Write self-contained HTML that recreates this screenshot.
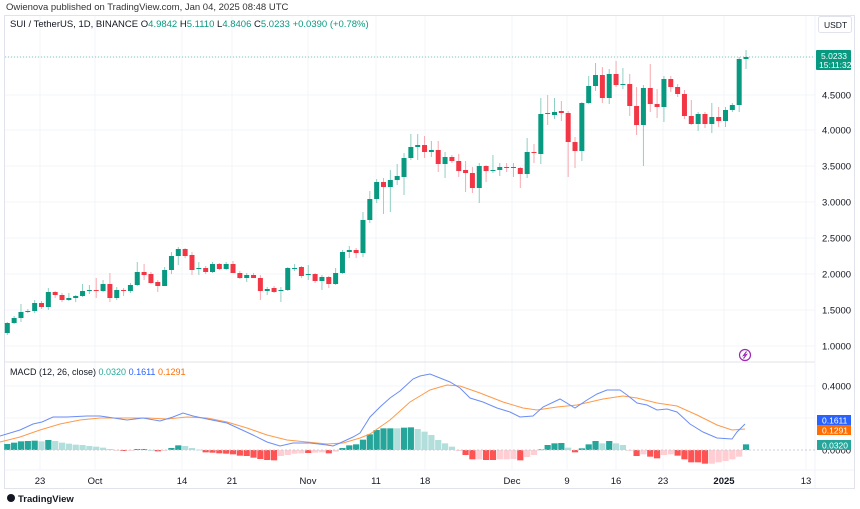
<!DOCTYPE html>
<html><head><meta charset="utf-8">
<style>
body{margin:0;width:860px;height:509px;background:#fff;overflow:hidden;font-family:"Liberation Sans",sans-serif}
svg{position:absolute;left:0;top:0}
</style></head><body>
<svg id="s" width="860" height="509" xmlns="http://www.w3.org/2000/svg" font-family="Liberation Sans, sans-serif"></svg>
<script>
const S=document.getElementById('s');let h='';
h+='<rect x="4.5" y="15.5" width="850" height="473" fill="none" stroke="#e0e3eb"/>';
[57,95,130,166,202,238,274,310,346].forEach(y=>{h+=`<line x1="5" x2="815" y1="${y}" y2="${y}" stroke="#f2f4f8"/>`});
[386,418].forEach(y=>{h+=`<line x1="5" x2="815" y1="${y}" y2="${y}" stroke="#f2f4f8"/>`});
const vx=[40,95,182,232,308,376,425,512,567,616,663,724,806];
vx.forEach(x=>{h+=`<line x1="${x}" x2="${x}" y1="16" y2="470" stroke="#f2f4f8"/>`});
h+='<line x1="5" x2="815" y1="362" y2="362" stroke="#e0e3eb"/>';
h+='<line x1="815" x2="815" y1="16" y2="488" stroke="#f0f3fa"/>';
h+='<line x1="5" x2="854" y1="470" y2="470" stroke="#f0f3fa"/>';
[[95,'4.5000'],[130,'4.0000'],[166,'3.5000'],[202,'3.0000'],[238,'2.5000'],[274,'2.0000'],[310,'1.5000'],[346,'1.0000'],[386,'0.4000'],[450,'0.0000']].forEach(a=>{h+=`<text x="822" y="${a[0]+3.5}" font-size="9.5" fill="#131722">${a[1]}</text>`});
const C=[[333,323,322,335],[323,318,316,324],[318,312,304,322],[312,311,309,313],[311,303,300,313],[303,307,301,309],[307,292,288,310],[292,295,291,298],[295,300,293,302],[300,298,293,301],[298,296,295,302],[296,291,284,297],[291,290,285,294],[290,291,278,298],[291,284,280,292],[284,298,273,302],[298,290,287,300],[290,291,288,296],[291,285,283,293],[285,272,262,286],[272,275,264,280],[274,283,272,284],[282,286,280,292],[286,270,267,286],[270,256,252,274],[256,249,247,265],[249,256,248,258],[255,270,252,275],[269,268,262,275],[268,272,266,274],[272,264,262,273],[264,269,263,270],[269,264,262,270],[264,273,261,273],[273,278,271,279],[278,275,273,282],[275,278,273,278],[278,291,275,300],[291,289,287,295],[288,292,286,293],[291,290,287,302],[290,268,267,291],[269,268,264,271],[267,276,266,278],[275,274,265,280],[274,281,273,283],[281,277,275,290],[277,284,276,288],[284,273,268,285],[273,252,250,274],[252,250,246,258],[250,253,248,258],
[253,220,212,257],[220,199,191,223],[199,182,179,203],[182,187,178,214],[187,180,170,212],[180,176,164,185],[177,158,153,195],[158,147,134,160],[147,145,134,160],[145,152,136,158],[152,150,141,157],[150,164,141,172],[164,157,152,178],[157,161,155,163],[161,171,154,177],[170,173,161,192],[173,188,167,193],[188,166,163,203],[166,171,165,182],[171,170,155,173],[170,167,163,176],[167,168,163,172],[168,167,163,177],[168,174,167,188],[174,152,138,178],[152,153,144,163],
[154,114,98,164],[113,114,95,125],[115,112,98,119],[111,113,101,121],[113,142,111,177],[142,151,137,168],[151,103,102,161],[103,86,76,104],[86,75,63,91],[75,98,67,103],[98,74,69,104],[74,85,61,87],[85,84,68,89],[84,106,74,116],[106,125,87,135],[125,88,85,166],[88,104,64,112],[104,107,89,118],[107,79,76,122],[79,87,76,92],[87,94,84,97],[94,116,90,119],[116,124,100,125],[124,114,112,131],[114,124,112,128],[124,117,103,133],[117,121,107,127],[121,110,107,127],[110,105,103,112],[105,59,57,112],[59,57,50,69]];
const X=i=>7.3+i*6.84;
C.forEach((c,i)=>{const x=X(i);const up=c[1]<c[0];const col=up?'#089981':'#f23645';const wc=up?'#8fcfc3':'#f7a9b0';
h+=`<line x1="${x}" x2="${x}" y1="${c[2]}" y2="${c[3]}" stroke="${wc}" stroke-width="1"/>`;
const t=Math.min(c[0],c[1]),b=Math.max(c[0],c[1]);h+=`<rect x="${x-2.5}" y="${t}" width="5" height="${Math.max(1,b-t)}" fill="${col}"/>`;});
h+='<line x1="5" x2="815" y1="57" y2="57" stroke="#089981" stroke-opacity=".5" stroke-dasharray="1,2"/>';
h+='<rect x="816" y="50" width="35" height="20" rx="1" fill="#089981"/><text x="821" y="59" font-size="8.5" fill="#fff">5.0233</text><text x="819" y="68" font-size="8.5" fill="#fff">15:11:32</text>';
const Hs='237d,233d,229d,228d,227d,229l,225d,228l,233l,236l,239l,240l,243l,245l,248l,252l,257r,258R,256r,252g,252g,255l,259R,257r,249g,241g,243l,249l,254l,262R,263R,265R,266R,268R,272R,273R,278R,282R,285R,286R,273r,270r,266r,265r,264R,263r,262r,265R,260r,249g,241g,238g,224g,208g,195g,190g,190g,190l,188g,187g,192l,200l,210l,225l,235l,245l,258r,270R,283R,283r,285R,285R,283r,283r,282r,286R,276r,270r,253g,240g,235g,234g,248l,262R,250g,238g,228g,235l,228g,235l,240l,257r,273R,268r,275R,280R,270r,268r,272R,283R,292R,292R,296R,296r,292r,288r,283r,275r,238g'.split(',');
const HC={d:'#26a69a',g:'#26a69a',l:'#b2dfdb',r:'#ffcdd2',R:'#ff5252'};
Hs.forEach((s,i)=>{const y=365+parseInt(s)/3;const z=450;const x=X(i);const t=Math.min(y,z),b=Math.max(y,z);h+=`<rect x="${x-3.1}" y="${t}" width="6.2" height="${Math.max(0.8,b-t)}" fill="${HC[s.slice(-1)]}"/>`;});
h+='<line x1="5" x2="815" y1="450" y2="450" stroke="#c8ccd6" stroke-dasharray="2,2"/>';
const B='0,436 20,430 33,424 42,422 53,417 67,417 87,416 100,416 107,417 127,420 143,418 160,421 173,417 183,413 193,416 207,419 227,423 240,429 253,435 267,442 280,446 293,443 310,443 327,445 333,446 340,443 353,437 360,433 370,417 380,407 390,398 400,391 413,379 420,376 430,374 440,378 450,382 460,388 470,398 483,402 497,408 510,412 520,417 533,416 543,407 560,399 575,408 587,400 597,394 607,390 620,390 627,395 637,403 647,405 657,410 667,409 677,412 690,424 703,432 717,438 732,439 737,432 745,424';
const O='0,442 20,437 40,430 60,424 80,420 100,418 127,418 147,418 167,419 187,417 207,418 227,422 247,428 267,435 287,440 307,442 327,444 343,443 360,438 370,434 390,420 410,402 430,390 447,385 460,386 480,393 503,402 523,408 537,410 557,407 577,405 603,399 623,396 637,398 657,403 677,406 697,415 717,425 732,430 745,429';
h+=`<polyline points="${O}" fill="none" stroke="#ff9a4a" stroke-width="1"/><polyline points="${B}" fill="none" stroke="#6c8ef5" stroke-width="1"/>`;
h+='<rect x="817" y="415" width="34" height="10" fill="#2962ff"/><text x="822" y="423.5" font-size="8.5" fill="#fff">0.1611</text>';
h+='<rect x="817" y="425" width="34" height="10" fill="#ff6d00"/><text x="822" y="433.5" font-size="8.5" fill="#fff">0.1291</text>';
h+='<rect x="817" y="440" width="34" height="10" fill="#26a69a"/><text x="822" y="448.5" font-size="8.5" fill="#fff">0.0320</text>';
h+='<circle cx="745" cy="355" r="5.5" fill="#fff" stroke="#9c27b0" stroke-width="1.2"/><polyline points="746.5,351.5 743.5,355.5 746.5,354.5 743.5,358.5" fill="none" stroke="#9c27b0" stroke-width="1.1"/>';
[[40,'23'],[95,'Oct'],[182,'14'],[232,'21'],[308,'Nov'],[376,'11'],[425,'18'],[512,'Dec'],[567,'9'],[616,'16'],[663,'23'],[724,'2025'],[806,'13']].forEach(a=>{h+=`<text x="${a[0]}" y="484" font-size="9.5" fill="#131722" text-anchor="middle"${a[1]=='2025'?' font-weight="bold"':''}>${a[1]}</text>`});
h+='<text x="6" y="10" font-size="9.5" fill="#333">Owienova published on TradingView.com, Jan 04, 2025 08:48 UTC</text>';
h+='<text x="10" y="27" font-size="9.5" fill="#131722">SUI / TetherUS, 1D, BINANCE  <tspan fill="#131722">O</tspan><tspan fill="#089981">4.9842</tspan>  H<tspan fill="#089981">5.1110</tspan>  L<tspan fill="#089981">4.8406</tspan>  C<tspan fill="#089981">5.0233  +0.0390 (+0.78%)</tspan></text>';
h+='<rect x="818.5" y="16.5" width="33" height="16" rx="2" fill="#fff" stroke="#e0e3eb"/><text x="824" y="28" font-size="8.5" fill="#131722">USDT</text>';
h+='<text x="10" y="375" font-size="9" fill="#131722">MACD (12, 26, close)  <tspan fill="#26a69a">0.0320</tspan>  <tspan fill="#2962ff">0.1611</tspan>  <tspan fill="#ff6d00">0.1291</tspan></text>';
h+='<circle cx="11" cy="498" r="4" fill="#131722"/><text x="18" y="502" font-size="9.5" font-weight="bold" fill="#131722">TradingView</text>';
S.innerHTML=h;
</script>
</body></html>
